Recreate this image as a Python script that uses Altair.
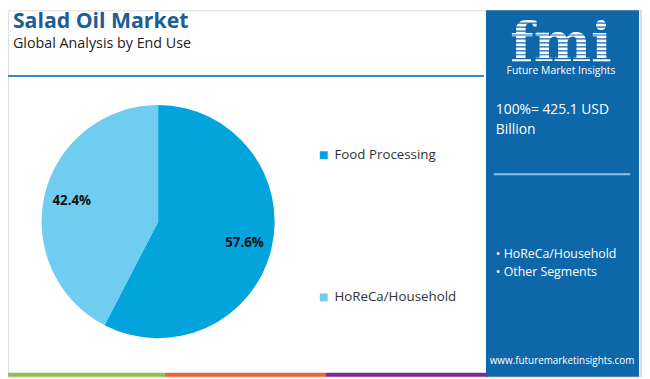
import altair as alt
import pandas as pd

# ---- data ----
segments = ["Food Processing", "HoReCa/Household"]
shares = [57.6, 42.4]
share_labels = ["57.6%", "42.4%"]
seg_colors = ["#03a4dc", "#70cdf1"]
title_text = "Salad Oil Market"
subtitle_text = "Global Analysis by End Use"
total_lines = ["100%= 425.1 USD", "Billion"]
other_items = ["\u2022 HoReCa/Household", "\u2022 Other Segments"]
url_text = "www.futuremarketinsights.com"
strip_colors = ["#8dc04f", "#e2673a", "#7b2f8c"]

FONT = "Open Sans"
PANEL = "#0e67a8"
W, H = 642, 371

pie_df = pd.DataFrame({"segment": segments, "share": shares,
                       "label": share_labels, "order": [0, 1]})
one = pd.DataFrame({"k": [0]})

def txt(s, x, y, size, color, weight="normal", align="left", baseline="alphabetic", font=FONT):
    return alt.Chart(one).mark_text(
        text=s, align=align, baseline=baseline, fontSize=size, color=color,
        fontWeight=weight, font=font
    ).encode(x=alt.value(x), y=alt.value(y))

def rect(x, x2, y, y2, color):
    return alt.Chart(one).mark_rect(color=color).encode(
        x=alt.value(x), x2=alt.value(x2), y=alt.value(y), y2=alt.value(y2))

def hrule(x, x2, y, color, w):
    return alt.Chart(one).mark_rule(color=color, strokeWidth=w).encode(
        x=alt.value(x), x2=alt.value(x2), y=alt.value(y))

CX, CY, R = 152, 214, 118

pie = alt.Chart(pie_df).mark_arc(outerRadius=R).encode(
    theta=alt.Theta("share:Q", stack=True),
    order=alt.Order("order:Q"),
    color=alt.Color("segment:N", sort=segments,
                    scale=alt.Scale(domain=segments, range=seg_colors),
                    legend=alt.Legend(orient="none", legendX=313, legendY=140,
                                      title=None, symbolType="square",
                                      symbolSize=64, symbolStrokeWidth=0,
                                      labelFontSize=13.5, labelColor="#333333",
                                      labelFont=FONT, rowPadding=129,
                                      labelOffset=4, padding=0)),
    x=alt.value(CX), y=alt.value(CY),
)

pie_text = alt.Chart(pie_df).mark_text(
    radius=90, fontSize=13.5, fontWeight="bold", color="#111111", font=FONT
).encode(
    theta=alt.Theta("share:Q", stack=True),
    order=alt.Order("order:Q"),
    text="label:N",
    x=alt.value(CX), y=alt.value(CY),
)

layers = [
    txt(title_text, 5, 18, 21.5, "#1d5d95", weight="bold"),
    txt(subtitle_text, 5, 38, 14.5, "#222222"),
    hrule(0, 482, 66.5, "#3f86c4", 2),
    pie, pie_text,
    rect(484, 639, 0, H, PANEL),
    rect(640, 642, 0, H, "#dddddd"),
]

# logo
layers.append(txt("fmi", 560, 51, 55, "white", weight="bold", align="center", font="DejaVu Serif"))
for yy in range(13, 51, 4):
    layers.append(hrule(504, 618, yy, PANEL, 1.2))
layers.append(txt("Future Market Insights", 560, 64, 10.5, "white", align="center"))

layers += [
    txt(total_lines[0], 494, 105, 14, "white"),
    txt(total_lines[1], 494, 125, 14, "white"),
    hrule(492, 630, 166, "#8cc3ea", 2),
    txt(other_items[0], 494, 247, 12.5, "white", baseline="middle"),
    txt(other_items[1], 494, 265, 12.5, "white", baseline="middle"),
    txt(url_text, 561, 355, 10, "white", align="center", baseline="middle"),
]

strip_x = [0, 159, 322, 486]
for i, c in enumerate(strip_colors):
    layers.append(rect(strip_x[i], strip_x[i + 1], 367, H, c))

chart = alt.layer(*layers).properties(
    width=W, height=H, autosize=alt.AutoSizeParams(type="none"), padding=0
).configure_view(stroke=None).configure(background="white")

chart.save("out.html", embed_options={"renderer": "svg", "actions": False})
